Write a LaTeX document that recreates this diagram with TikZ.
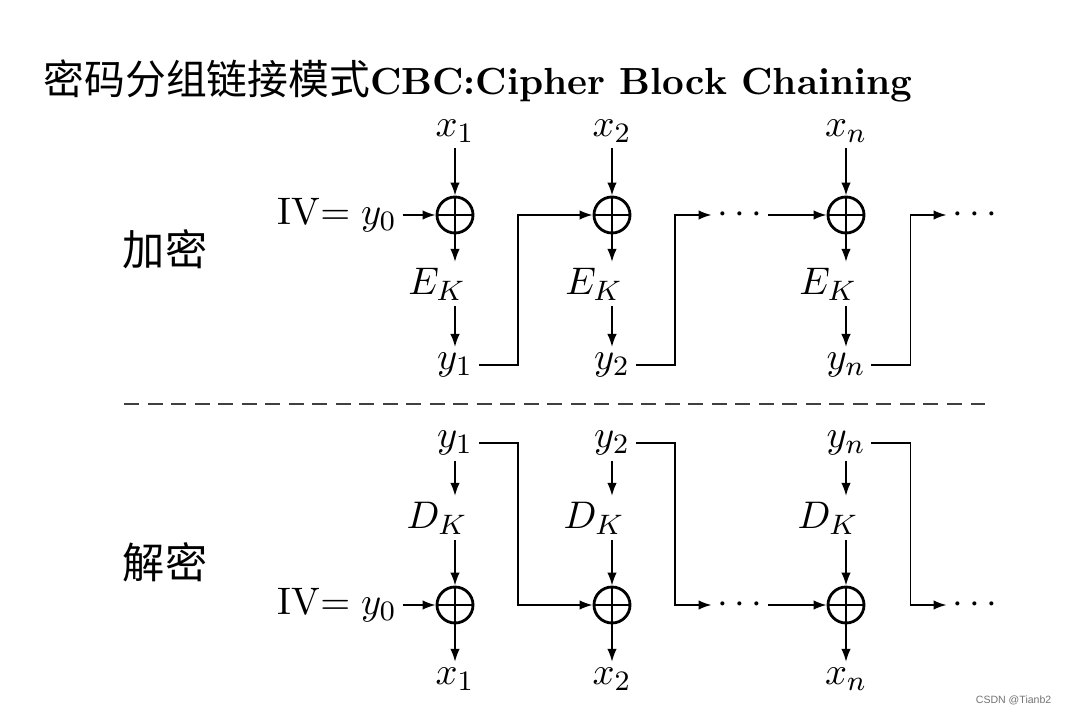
\documentclass[tikz,border=0pt]{standalone}
\usepackage{fontspec}
\newfontfamily\cjk{Noto Sans CJK SC}
\newfontfamily\wmfont{Liberation Sans}
\usetikzlibrary{arrows.meta,positioning}

\begin{document}
\begin{tikzpicture}[
  x=0.01cm, y=-0.01cm,
  font=\fontsize{10.9}{13}\selectfont,
  every node/.style={inner sep=1.5pt},
  xor/.style={circle, draw, line width=0.8pt, minimum size=0.36cm, inner sep=0pt,
    path picture={\draw[line width=0.8pt] (path picture bounding box.north) -- (path picture bounding box.south)
      (path picture bounding box.west) -- (path picture bounding box.east);}},
  sidelabel/.style={font=\cjk\fontsize{12}{14}\selectfont},
  arrow/.style={-{Latex[length=1.3mm,width=0.95mm]}, line width=0.5pt},
  sepline/.style={line width=0.5pt, black!75, dash pattern=on 0.15cm off 0.085cm}
]
\useasboundingbox (0,0) rectangle (1067,713);

% title
\node[anchor=base west, inner sep=0pt] (title) at (43,95)
  {{\cjk\fontsize{11.6}{14}\selectfont 密码分组链接模式}{\bfseries\fontsize{10.75}{13}\selectfont CBC:Cipher Block Chaining}};

% encryption
\node[sidelabel] (enc) at (165,249) {加密};
\node (ex1in) at (455,131) {$x_1$};
\node[xor] (ex1) at (455,215) {};
\node (ek1) at (437,284) {$E_K$};
\node (ey1) at (455,365) {$y_1$};
\node[left=0.33cm of ex1] (eiv) {IV$=y_0$};

\node (ex2in) at (612,131) {$x_2$};
\node[xor] (ex2) at (612,215) {};
\node (ek2) at (594,284) {$E_K$};
\node (ey2) at (612,365) {$y_2$};

\node (ed1) at (740,215) {$\cdots$};

\node (exnin) at (846,131) {$x_n$};
\node[xor] (exn) at (846,215) {};
\node (ekn) at (828,284) {$E_K$};
\node (eyn) at (846,365) {$y_n$};

\node (ed2) at (975,215) {$\cdots$};

\draw[arrow] (ex1in) -- (ex1);
\draw[arrow] (eiv) -- (ex1);
\draw[arrow] (ex1) -- (ex1 |- ek1.north);
\draw[arrow] (ex1 |- ek1.south) -- (ey1);
\draw[arrow] (ex2in) -- (ex2);
\draw[arrow] (ex2) -- (ex2 |- ek2.north);
\draw[arrow] (ex2 |- ek2.south) -- (ey2);
\draw[arrow] (exnin) -- (exn);
\draw[arrow] (exn) -- (exn |- ekn.north);
\draw[arrow] (exn |- ekn.south) -- (eyn);
\draw[arrow] (ey1.east) -- ++(39,0) |- (ex2);
\draw[arrow] (ey2.east) -- ++(39,0) |- (ed1);
\draw[arrow] (ed1) -- (exn);
\draw[arrow] (eyn.east) -- ++(39,0) |- (ed2);

% separator
\coordinate (sepl) at (124,404);
\coordinate (sepr) at (985,404);
\draw[sepline] (sepl) -- (sepr);

% decryption
\node[sidelabel] (dec) at (165,562) {解密};
\node (dy1) at (455,443) {$y_1$};
\node (dk1) at (437,518) {$D_K$};
\node[xor] (dx1) at (455,605) {};
\node (dout1) at (455,679) {$x_1$};
\node[left=0.33cm of dx1] (div) {IV$=y_0$};

\node (dy2) at (612,443) {$y_2$};
\node (dk2) at (594,518) {$D_K$};
\node[xor] (dx2) at (612,605) {};
\node (dout2) at (612,679) {$x_2$};

\node (dd1) at (740,605) {$\cdots$};

\node (dyn) at (846,443) {$y_n$};
\node (dkn) at (828,518) {$D_K$};
\node[xor] (dxn) at (846,605) {};
\node (doutn) at (846,679) {$x_n$};

\node (dd2) at (975,605) {$\cdots$};

\draw[arrow] (dy1) -- (dy1 |- dk1.north);
\draw[arrow] (dy1 |- dk1.south) -- (dx1);
\draw[arrow] (div) -- (dx1);
\draw[arrow] (dx1) -- (dout1);
\draw[arrow] (dy2) -- (dy2 |- dk2.north);
\draw[arrow] (dy2 |- dk2.south) -- (dx2);
\draw[arrow] (dx2) -- (dout2);
\draw[arrow] (dyn) -- (dyn |- dkn.north);
\draw[arrow] (dyn |- dkn.south) -- (dxn);
\draw[arrow] (dxn) -- (doutn);
\draw[arrow] (dy1.east) -- ++(39,0) |- (dx2);
\draw[arrow] (dy2.east) -- ++(39,0) |- (dd1);
\draw[arrow] (dd1) -- (dxn);
\draw[arrow] (dyn.east) -- ++(39,0) |- (dd2);

\node[anchor=east, inner sep=0pt, text=black!55, font=\wmfont\fontsize{3}{4}\selectfont] (wm) at (1052,700) {CSDN @Tianb2};
\end{tikzpicture}
\end{document}
